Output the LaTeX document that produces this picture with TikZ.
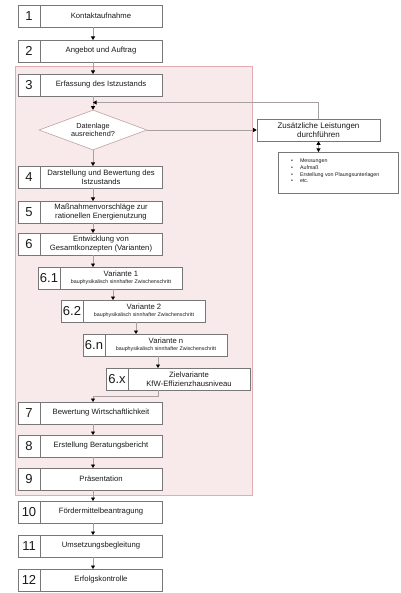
\documentclass[tikz,border=0pt]{standalone}
\usepackage{fontspec}
\setmainfont{Liberation Sans}
\usetikzlibrary{arrows.meta,shapes.geometric,fit,calc}
\pgfdeclarelayer{pinklayer}
\pgfsetlayers{pinklayer,main}

\definecolor{pinkfill}{HTML}{F8EAEA}
\definecolor{pinkline}{HTML}{E0AEB0}
\definecolor{boxline}{HTML}{777777}
\definecolor{diaml}{HTML}{C0A2A2}
\definecolor{conn}{HTML}{A8A0A0}
\definecolor{txt}{HTML}{1A1A1A}

\newcommand{\smalltxt}{\fontsize{5.3}{6}\selectfont}

\tikzset{
  numcell/.style={draw=boxline, line width=0.6pt, fill=white, minimum width=22pt,
    inner sep=0pt, outer sep=0pt, font=\fontsize{13}{13}\selectfont, text=txt},
  txtcell/.style={draw=boxline, line width=0.6pt, fill=white, minimum width=122pt,
    inner sep=1pt, outer sep=0pt, align=center, font=\fontsize{7.7}{9}\selectfont, text=txt},
  conline/.style={draw=conn, line width=0.6pt},
  arr/.style={conline, -{Triangle[width=4pt,length=3.5pt,color=black]}},
  arrtwo/.style={conline, {Triangle[width=4pt,length=3.5pt,color=black]}-{Triangle[width=4pt,length=3.5pt,color=black]}},
}

\newcommand{\stepbox}[5]{%
  \node[numcell, minimum height=22pt, anchor=north west] (#1n) at (#3,#4) {#2};
  \node[txtcell, minimum height=22pt, anchor=north west] (#1t) at (#1n.north east) {#5};
  \node[fit=(#1n)(#1t), inner sep=0pt, outer sep=0pt] (#1) {};
}

\begin{document}
\begin{tikzpicture}[x=1pt,y=-1pt]
\useasboundingbox (0,0) rectangle (400,593);

% pink region
\begin{pgfonlayer}{pinklayer}
  \fill[pinkfill] (15,66) rectangle (252,495);
  \draw[pinkline, line width=0.7pt] (15,66) rectangle (252,495);
\end{pgfonlayer}

\stepbox{b1}{1}{18}{5}{Kontaktaufnahme}
\stepbox{b2}{2}{18}{40}{Angebot und Auftrag}
\stepbox{b3}{3}{18}{74}{Erfassung des Istzustands}

\node[diamond, draw=diaml, fill=white, line width=0.6pt, minimum width=108pt,
  minimum height=40pt, inner sep=0pt, aspect=2.7, align=center,
  font=\fontsize{7.3}{8.6}\selectfont, text=txt] (dec) at (93,130) {Datenlage\\ausreichend?};

\stepbox{b4}{4}{18}{166}{Darstellung und Bewertung des\\Istzustands}
\stepbox{b5}{5}{18}{201}{Maßnahmenvorschläge zur\\rationellen Energienutzung}
\stepbox{b6}{6}{18}{233}{Entwicklung von\\Gesamtkonzepten (Varianten)}
\stepbox{b61}{6.1}{38}{267}{Variante 1\\[-2pt]{\smalltxt bauphysikalisch sinnhafter Zwischenschritt}}
\stepbox{b62}{6.2}{61}{300}{Variante 2\\[-2pt]{\smalltxt bauphysikalisch sinnhafter Zwischenschritt}}
\stepbox{b6n}{6.n}{83}{334}{Variante n\\[-2pt]{\smalltxt bauphysikalisch sinnhafter Zwischenschritt}}
\stepbox{b6x}{6.x}{106}{368}{Zielvariante\\KfW-Effizienzhausniveau}
\stepbox{b7}{7}{18}{402}{Bewertung Wirtschaftlichkeit}
\stepbox{b8}{8}{18}{435}{Erstellung Beratungsbericht}
\stepbox{b9}{9}{18}{468}{Präsentation}
\stepbox{b10}{10}{18}{501}{Fördermittelbeantragung}
\stepbox{b11}{11}{18}{535}{Umsetzungsbegleitung}
\stepbox{b12}{12}{18}{569}{Erfolgskontrolle}

\node[draw=boxline, line width=0.6pt, fill=white, minimum width=123pt, minimum height=22pt,
  align=center, inner sep=0pt, font=\fontsize{8}{9.5}\selectfont, text=txt] (zus) at (318.5,130)
  {Zusätzliche Leistungen\\durchführen};

\node[draw=boxline, line width=0.6pt, fill=white, minimum width=120pt, minimum height=41pt,
  anchor=north west, inner sep=0pt] (list) at (278,152) {};
\node[anchor=north west, inner sep=0pt, font=\fontsize{5.3}{6.7}\selectfont, text=txt] (listtxt) at (291,158)
  {\begin{tabular}{@{}l@{\hspace{7pt}}l@{}}
   \textbullet & Messungen\\
   \textbullet & Aufmaß\\
   \textbullet & Erstellung von Plaungsunterlagen\\
   \textbullet & etc.
   \end{tabular}};

\coordinate (join) at (93,102.5);
\coordinate (turn) at (93,396);

\draw[arr] ([xshift=3pt]b1.south) -- ([xshift=3pt]b1.south |- b2.north);
\draw[arr] ([xshift=3pt]b2.south) -- ([xshift=3pt]b2.south |- b3.north);
\draw[arr] ([xshift=3pt]b3.south) -- (dec.north);
\draw[arr] (dec.south) -- (dec.south |- b4.north);
\draw[arr] ([xshift=3pt]b4.south) -- ([xshift=3pt]b4.south |- b5.north);
\draw[arr] ([xshift=3pt]b5.south) -- ([xshift=3pt]b5.south |- b6.north);
\draw[arr] ([xshift=3pt]b6.south) -- ([xshift=3pt]b6.south |- b61.north);
\draw[arr] ([xshift=3pt]b61.south) -- ([xshift=3pt]b61.south |- b62.north);
\draw[arr] ([xshift=3pt]b62.south) -- ([xshift=3pt]b62.south |- b6n.north);
\draw[arr] ([xshift=3pt]b6n.south) -- ([xshift=3pt]b6n.south |- b6x.north);
\draw[arr] ([xshift=3pt]b6n.south |- b6x.south) |- (turn) -- (turn |- b7.north);
\draw[arr] ([xshift=3pt]b7.south) -- ([xshift=3pt]b7.south |- b8.north);
\draw[arr] ([xshift=3pt]b8.south) -- ([xshift=3pt]b8.south |- b9.north);
\draw[arr] ([xshift=3pt]b9.south) -- ([xshift=3pt]b9.south |- b10.north);
\draw[arr] ([xshift=3pt]b10.south) -- ([xshift=3pt]b10.south |- b11.north);
\draw[arr] ([xshift=3pt]b11.south) -- ([xshift=3pt]b11.south |- b12.north);
\draw[arr] (dec.east) -- (dec.east -| zus.west);
\draw[arr] (zus.north) |- (join);
\draw[arrtwo] (zus.south) -- (zus.south |- list.north);
\end{tikzpicture}
\end{document}
